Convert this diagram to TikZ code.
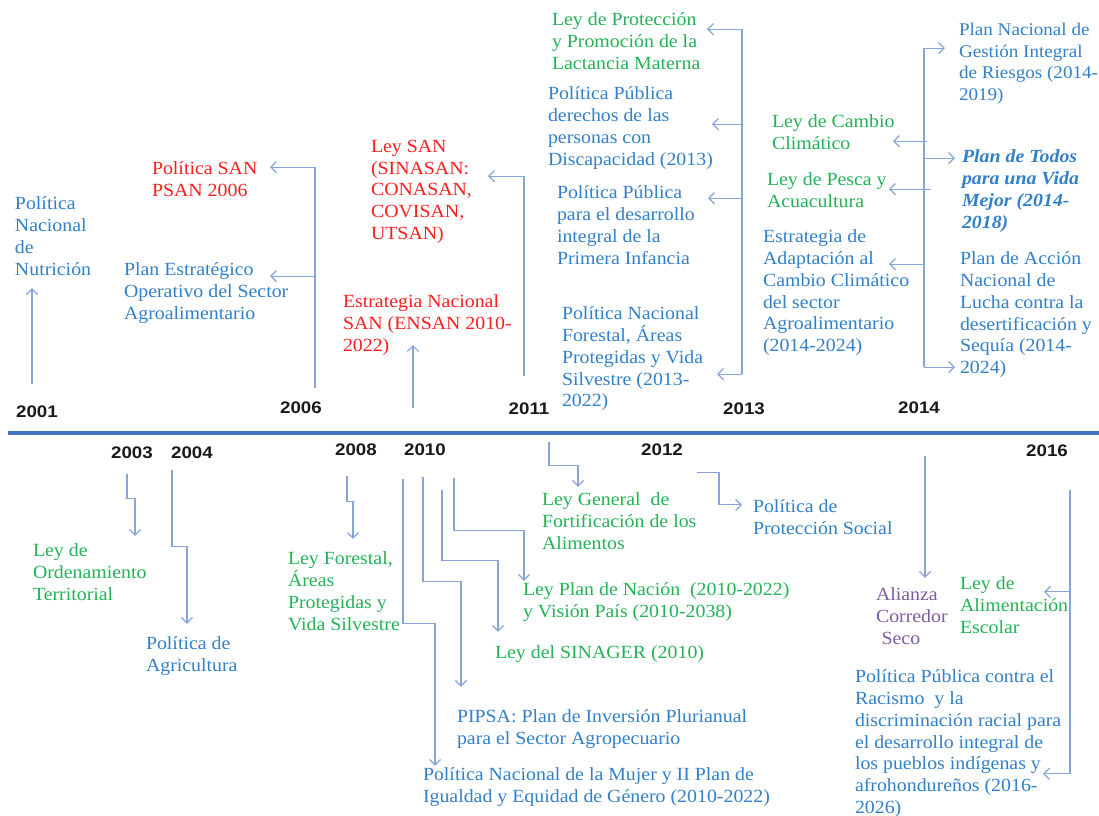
\documentclass[tikz,border=0pt]{standalone}
\usepackage{fontspec}
\setmainfont{Liberation Serif}[FakeStretch=1.07]
\newfontfamily\yearfont{Liberation Sans}[FakeStretch=1.12]
\usetikzlibrary{arrows.meta,positioning}

\definecolor{txtblue}{RGB}{50,128,200}
\definecolor{txtgreen}{RGB}{35,178,85}
\definecolor{txtred}{RGB}{250,30,30}
\definecolor{txtpurple}{RGB}{125,92,160}
\definecolor{linkblue}{RGB}{135,165,215}
\definecolor{axisblue}{RGB}{68,114,196}
\definecolor{yearblack}{RGB}{25,25,25}

\begin{document}
\begin{tikzpicture}[
		x=0.025cm, y=-0.025cm,
		every node/.style = {
			inner sep=0pt, outer sep=0pt,
			anchor=north west, align=left,
			font=\fontsize{13.2}{15.45}\selectfont,
			execute at begin node=\strut
		},
		blu/.style = {text=txtblue},
		grn/.style = {text=txtgreen},
		rd/.style = {text=txtred},
		prp/.style = {text=txtpurple},
		year/.style = {
			anchor=center, text=yearblack,
			font=\yearfont\bfseries\fontsize{11.9}{14}\selectfont,
			execute at begin node={}
		},
		arr/.style = {draw=linkblue, line width=0.85pt, -{Straight Barb[length=4pt,width=8pt]}},
		axis/.style = {draw=axisblue, line width=2.2pt}
		]
		\useasboundingbox (0,0) rectangle (1099,816);

		% time axis
		\coordinate (ax-l) at (8,433);
		\coordinate (ax-r) at (1099,433);
		\draw[axis] (ax-l) -- (ax-r);

		% years
		\node[year] (y2001) at (37,414) {2001};
		\node[year] (y2006) at (301,410) {2006};
		\node[year] (y2011) at (529,411) {2011};
		\node[year] (y2013) at (744,411) {2013};
		\node[year] (y2014) at (919,410) {2014};
		\node[year] (y2003) at (132,455) {2003};
		\node[year] (y2004) at (192,455) {2004};
		\node[year] (y2008) at (356,452) {2008};
		\node[year] (y2010) at (425,452) {2010};
		\node[year] (y2012) at (662,452) {2012};
		\node[year] (y2016) at (1047,453) {2016};

		% above the axis
		\node[blu] (nutricion) at (15,197) {Política\\Nacional\\de\\Nutrición};
		\node[rd] (psan) at (152,162) {Política SAN\\PSAN 2006};
		\node[blu] (pesa) at (124,263) {Plan Estratégico\\Operativo del Sector\\Agroalimentario};
		\node[rd] (ensan) at (343,295) {Estrategia Nacional\\SAN (ENSAN 2010-\\2022)};
		\node[rd] (leysan) at (371,140) {Ley SAN\\(SINASAN:\\CONASAN,\\COVISAN,\\UTSAN)};
		\node[grn] (lactancia) at (552,13) {Ley de Protección\\y Promoción de la\\Lactancia Materna};
		\node[blu] (discap) at (548,87) {Política Pública\\derechos de las\\personas con\\Discapacidad (2013)};
		\node[blu] (infancia) at (557,186) {Política Pública\\para el desarrollo\\integral de la\\Primera Infancia};
		\node[blu] (forestal) at (562,307) {Política Nacional\\Forestal, Áreas\\Protegidas y Vida\\Silvestre (2013-\\2022)};
		\node[grn] (cambio) at (772,115) {Ley de Cambio\\Climático};
		\node[grn] (pesca) at (767,173) {Ley de Pesca y\\Acuacultura};
		\node[blu] (adapta) at (763,230) {Estrategia de\\Adaptación al\\Cambio Climático\\del sector\\Agroalimentario\\(2014-2024)};
		\node[blu, font=\fontsize{12.7}{15.45}\selectfont] (riesgos) at (959,23) {Plan Nacional de\\Gestión Integral\\de Riesgos (2014-\\2019)};
		\node[blu, font=\fontsize{13.2}{15.45}\selectfont\bfseries\itshape] (todos) at (962,150) {Plan de Todos\\para una Vida\\Mejor (2014-\\2018)};
		\node[blu] (sequia) at (960,252) {Plan de Acción\\Nacional de\\Lucha contra la\\desertificación y\\Sequía (2014-\\2024)};

		% below the axis
		\node[grn] (ordena) at (33,544) {Ley de\\Ordenamiento\\Territorial};
		\node[blu] (agri) at (146,637) {Política de\\Agricultura};
		\node[grn] (leyforestal) at (288,552) {Ley Forestal,\\Áreas\\Protegidas y\\Vida Silvestre};
		\node[blu] (mujer) at (423,768) {Política Nacional de la Mujer y II Plan de\\Igualdad y Equidad de Género (2010-2022)};
		\node[blu] (pipsa) at (457,710) {PIPSA: Plan de Inversión Plurianual\\para el Sector Agropecuario};
		\node[grn] (sinager) at (495,643) {Ley del SINAGER (2010)};
		\node[grn] (nacion) at (523,583) {Ley Plan de Nación~ (2010-2022)\\y Visión País (2010-2038)};
		\node[grn] (fortif) at (542,493) {Ley General~ de\\Fortificación de los\\Alimentos};
		\node[blu] (protsoc) at (753,500) {Política de\\Protección Social};
		\node[prp] (alianza) at (876,588) {Alianza\\Corredor\\\hspace*{4pt}Seco};
		\node[grn] (escolar) at (960,577) {Ley de\\Alimentación\\Escolar};
		\node[blu] (racismo) at (855,670) {Política Pública contra el\\Racismo~ y la\\discriminación racial para\\el desarrollo integral de\\los pueblos indígenas y\\afrohondureños (2016-\\2026)};

		% links above the axis
		\draw[arr] ([shift={(-5,-20)}]y2001.north) -- ++(0,-96);
		\draw[arr] ([shift={(14,-12)}]y2006.north) -- ++(0,-221) -- ++(-45,0);
		\draw[arr] ([shift={(14,-124)}]y2006.north) -- ++(-45,0);
		\coordinate (k2010) at (413,408);
		\draw[arr] (k2010) -- ++(0,-63);
		\draw[arr] ([shift={(-5,-25)}]y2011.north) -- ++(0,-200) -- ++(-36,0);
		\coordinate (k2013) at ([shift={(-2,-27)}]y2013.north);
		\draw[arr] (k2013) -- ++(0,-345) -- ++(-35,0);
		\draw[arr] ([shift={(0,-250)}]k2013) -- ++(-30,0);
		\draw[arr] ([shift={(0,-176)}]k2013) -- ++(-34,0);
		\draw[arr] (k2013) -- ++(-25,0);
		\coordinate (k2014) at ([shift={(5,-33)}]y2014.north);
		\draw[arr] (k2014) -- ++(0,-319) -- ++(21,0);
		\draw[arr] (k2014) -- ++(31,0);
		\draw[arr] ([shift={(0,-209)}]k2014) -- ++(31,0);
		\draw[arr] ([shift={(3,-226)}]k2014) -- ++(-34,0);
		\draw[arr] ([shift={(7,-178)}]k2014) -- ++(-42,0);
		\draw[arr] ([shift={(0,-103)}]k2014) -- ++(-35,0);

		% links below the axis
		\draw[arr] ([shift={(-5,9)}]y2003.south) -- ++(0,25) -- ++(8,0) -- ++(0,37);
		\draw[arr] ([shift={(-20,5)}]y2004.south) -- ++(0,77) -- ++(15,0) -- ++(0,77);
		\draw[arr] ([shift={(-9,14)}]y2008.south) -- ++(0,26) -- ++(6,0) -- ++(0,37);
		\draw[arr] ([shift={(-22,17)}]y2010.south) -- ++(0,145) -- ++(32,0) -- ++(0,142);
		\draw[arr] ([shift={(-2,15)}]y2010.south) -- ++(0,105) -- ++(38,0) -- ++(0,105);
		\draw[arr] ([shift={(17,28)}]y2010.south) -- ++(0,71) -- ++(56,0) -- ++(0,71);
		\draw[arr] ([shift={(29,16)}]y2010.south) -- ++(0,53) -- ++(70,0) -- ++(0,50);
		\draw[arr] ([shift={(20,21)}]y2011.south) -- ++(0,24) -- ++(29,0) -- ++(0,21);
		\draw[arr] ([shift={(35,11)}]y2012.south) -- ++(22,0) -- ++(0,32) -- ++(23,0);
		\draw[arr] ([shift={(6,36)}]y2014.south) -- ++(0,122);
		\draw[arr] ([shift={(23,27)}]y2016.south) -- ++(0,284) -- ++(-27,0);
		\draw[arr] ([shift={(23,129)}]y2016.south) -- ++(-26,0);
	\end{tikzpicture}
\end{document}
